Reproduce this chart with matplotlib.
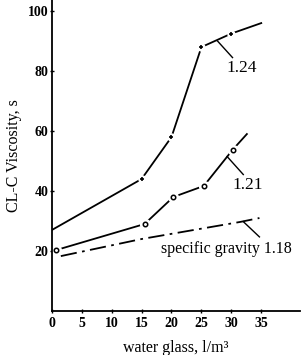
import matplotlib
matplotlib.use('Agg')
import matplotlib.pyplot as plt

# curve for specific gravity 1.24
x_124 = [0, 15, 20, 25, 30, 35]
y_124 = [27, 44, 58, 88, 92.5, 96]
# curve for specific gravity 1.21
x_121 = [0.7, 15.5, 20.3, 25.4, 30.2, 32.6]
y_121 = [20.3, 29, 38, 41.7, 53.7, 59]
# curve for specific gravity 1.18
x_118 = [1.5, 15, 31.5, 34.7]
y_118 = [18.3, 24, 29.7, 31]

x_ticks = [0, 5, 10, 15, 20, 25, 30, 35]
y_ticks = [20, 40, 60, 80, 100]

serif = 'Liberation Serif'

fig = plt.figure(figsize=(3.05, 3.55), dpi=100)
ax = fig.add_axes([0.170, 0.124, 0.814, 0.876])

ax.plot(x_124, y_124, color='black', linewidth=1.3)
ax.plot(x_124[1:5], y_124[1:5], linestyle='none', marker='o', markersize=5,
        markerfacecolor='white', markeredgecolor='white')
ax.plot(x_124[1:5], y_124[1:5], linestyle='none', marker='+', markersize=3,
        markeredgecolor='black', markeredgewidth=1.2)

ax.plot(x_121, y_121, color='black', linewidth=1.3)
ax.plot(x_121[:5], y_121[:5], linestyle='none', marker='o', markersize=7,
        markerfacecolor='white', markeredgecolor='white')
ax.plot(x_121[:5], y_121[:5], linestyle='none', marker='o', markersize=3.2,
        markerfacecolor='white', markeredgecolor='black', markeredgewidth=1.1)

ax.plot(x_118, y_118, color='black', linewidth=1.3, linestyle=(0, (9, 3, 1.5, 3)))

# leader lines and labels
ax.plot([27.7, 30.2], [90, 84.5], color='black', linewidth=1)
ax.text(31.7, 81, '1.24', fontsize=12.5, family=serif, ha='center', va='center')
ax.plot([29.3, 32], [51.5, 45.5], color='black', linewidth=1)
ax.text(32.8, 42, '1.21', fontsize=12.5, family=serif, ha='center', va='center')
ax.plot([32, 34.7], [29.8, 24.7], color='black', linewidth=1)
ax.text(29.2, 20.8, 'specific gravity 1.18', fontsize=11.5, family=serif,
        ha='center', va='center')

ax.set_xlim(0, 41.5)
ax.set_ylim(0, 103.7)
ax.set_xticks(x_ticks)
ax.set_yticks(y_ticks)
ax.set_xticklabels([str(v) for v in x_ticks], fontsize=10, family=serif, fontweight='bold')
ax.set_yticklabels([str(v) for v in y_ticks], fontsize=10, family=serif, fontweight='bold')
ax.tick_params(axis='x', direction='inout', length=3, width=1, pad=3)
ax.tick_params(axis='y', direction='inout', length=3, width=1, pad=1)

for side in ['top', 'right']:
    ax.spines[side].set_visible(False)
for side in ['left', 'bottom']:
    ax.spines[side].set_linewidth(1.3)

ax.set_xlabel('water glass, l/m³', fontsize=11.5, family=serif, labelpad=7)
ax.set_ylabel('CL-C Viscosity, s', fontsize=11.5, family=serif, labelpad=4)

fig.savefig('out.png', dpi=100)
